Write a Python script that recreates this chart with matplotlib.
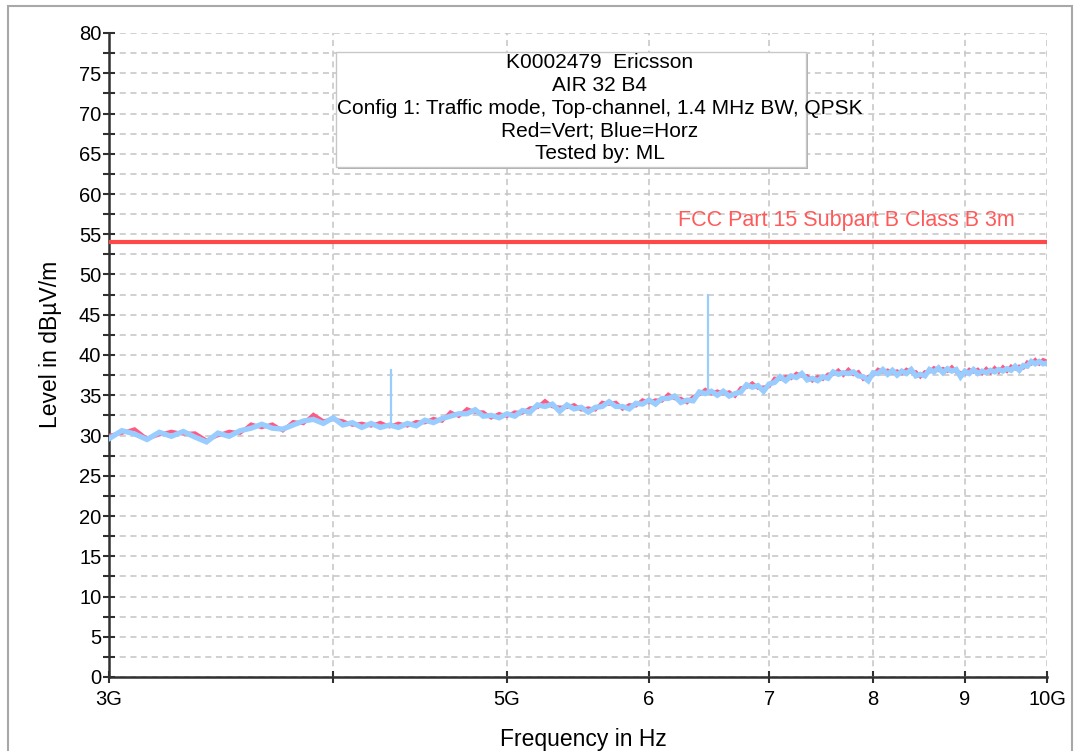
import numpy as np
import matplotlib
matplotlib.use("Agg")
import matplotlib.pyplot as plt
from matplotlib.patches import Rectangle
from matplotlib.ticker import MultipleLocator, NullLocator, FixedLocator, FixedFormatter

plt.rcParams['font.family'] = ['Liberation Sans', 'DejaVu Sans']

# Sweep points in GHz
freq_ghz = [
    3.00, 3.05, 3.10, 3.15, 3.20, 3.25, 3.30, 3.35, 3.40, 3.45,
    3.50, 3.55, 3.60, 3.65, 3.70, 3.75, 3.80, 3.85, 3.90, 3.95,
    4.00, 4.05, 4.10, 4.15, 4.20, 4.25, 4.30, 4.35, 4.40, 4.45,
    4.50, 4.55, 4.60, 4.65, 4.70, 4.75, 4.80, 4.85, 4.90, 4.95,
    5.00, 5.05, 5.10, 5.15, 5.20, 5.25, 5.30, 5.35, 5.40, 5.45,
    5.50, 5.55, 5.60, 5.65, 5.70, 5.75, 5.80, 5.85, 5.90, 5.95,
    6.00, 6.05, 6.10, 6.15, 6.20, 6.25, 6.30, 6.35, 6.40, 6.45,
    6.50, 6.55, 6.60, 6.65, 6.70, 6.75, 6.80, 6.85, 6.90, 6.95,
    7.00, 7.05, 7.10, 7.15, 7.20, 7.25, 7.30, 7.35, 7.40, 7.45,
    7.50, 7.55, 7.60, 7.65, 7.70, 7.75, 7.80, 7.85, 7.90, 7.95,
    8.00, 8.05, 8.10, 8.15, 8.20, 8.25, 8.30, 8.35, 8.40, 8.45,
    8.50, 8.55, 8.60, 8.65, 8.70, 8.75, 8.80, 8.85, 8.90, 8.95,
    9.00, 9.05, 9.10, 9.15, 9.20, 9.25, 9.30, 9.35, 9.40, 9.45,
    9.50, 9.55, 9.60, 9.65, 9.70, 9.75, 9.80, 9.85, 9.90, 9.95,
    10.00,
]

# Vertical polarisation (red)
level_vert = [
    30.0, 30.3, 30.8, 29.6, 30.1, 30.5, 30.2, 30.3, 29.4, 30.0,
    30.5, 30.3, 31.4, 31.0, 31.4, 30.6, 31.7, 31.5, 32.6, 31.8,
    32.0, 31.8, 31.3, 31.5, 31.2, 31.6, 31.1, 31.5, 31.2, 31.7,
    31.6, 32.1, 31.8, 32.9, 32.4, 33.3, 32.9, 32.9, 32.2, 32.7,
    32.4, 32.9, 32.8, 33.4, 33.5, 34.3, 33.6, 33.5, 33.5, 33.8,
    33.2, 33.4, 33.2, 34.1, 33.9, 34.1, 33.3, 33.8, 33.7, 34.4,
    34.1, 34.4, 34.3, 35.1, 34.6, 34.6, 34.1, 34.8, 35.1, 35.7,
    35.2, 35.5, 35.2, 35.4, 34.9, 35.9, 36.0, 36.5, 35.9, 36.0,
    36.1, 37.1, 37.0, 37.3, 37.1, 37.7, 37.4, 37.4, 36.8, 37.3,
    37.0, 37.6, 37.6, 38.1, 37.5, 38.2, 37.6, 37.9, 37.0, 37.3,
    37.5, 38.2, 37.9, 38.1, 37.8, 38.0, 37.7, 38.2, 37.9, 37.9,
    37.3, 37.9, 37.9, 38.4, 38.1, 38.3, 38.0, 38.5, 37.9, 37.8,
    37.7, 38.2, 37.9, 38.2, 37.7, 38.3, 37.8, 38.4, 37.9, 38.5,
    38.0, 38.6, 38.3, 38.6, 38.4, 39.1, 38.9, 39.4, 38.9, 39.4,
    39.2,
]

# Horizontal polarisation (blue)
level_horz = [
    29.6, 30.6, 30.2, 29.5, 30.4, 29.9, 30.5, 29.8, 29.2, 30.3,
    29.9, 30.6, 30.9, 31.4, 30.9, 30.8, 31.3, 31.8, 32.0, 31.5,
    32.2, 31.3, 31.6, 31.0, 31.5, 31.0, 31.3, 31.0, 31.5, 31.2,
    31.9, 31.6, 32.1, 32.4, 32.7, 32.7, 33.2, 32.4, 32.5, 32.2,
    32.7, 32.4, 33.1, 32.9, 33.8, 33.6, 33.9, 33.0, 33.8, 33.3,
    33.5, 32.9, 33.5, 33.6, 34.2, 33.6, 33.6, 33.3, 34.0, 33.9,
    34.4, 33.9, 34.6, 34.6, 34.9, 34.1, 34.4, 34.3, 35.4, 35.2,
    35.5, 35.0, 35.5, 34.9, 35.2, 35.4, 36.3, 36.0, 36.2, 35.5,
    36.4, 36.6, 37.3, 36.8, 37.4, 37.2, 37.7, 36.9, 37.1, 36.8,
    37.3, 37.1, 37.9, 37.6, 37.8, 37.7, 37.9, 37.4, 37.3, 36.8,
    37.8, 37.7, 38.2, 37.6, 38.1, 37.5, 38.0, 37.7, 38.2, 37.4,
    37.6, 37.4, 38.2, 37.9, 38.4, 37.8, 38.3, 38.0, 38.2, 37.3,
    38.0, 37.7, 38.2, 37.7, 38.0, 37.8, 38.1, 37.9, 38.2, 38.0,
    38.3, 38.1, 38.6, 38.1, 38.7, 38.6, 39.2, 38.9, 39.2, 38.9,
    39.0,
]

# Narrow carriers on the horizontal trace
spike_freq = [4.31, 6.47]
spike_floor = [31.2, 35.3]
spike_peak = [38.2, 47.6]

limit_level = 54.0
limit_name = "FCC Part 15 Subpart B Class B 3m"

info_lines = [
    "K0002479  Ericsson",
    "AIR 32 B4",
    "Config 1: Traffic mode, Top-channel, 1.4 MHz BW, QPSK",
    "Red=Vert; Blue=Horz",
    "Tested by: ML",
]

x_ticks = [3, 4, 5, 6, 7, 8, 9, 10]
x_tick_labels = ["3G", "", "5G", "6", "7", "8", "9", "10G"]

W, H = 1078, 751
fig = plt.figure(figsize=(W / 100, H / 100), dpi=100)
fig.patch.set_facecolor("white")

# outer panel frame
fig.patches.append(Rectangle((8 / W, -0.05), 1064 / W, 1 - 6 / H + 0.05,
                             transform=fig.transFigure, fill=False,
                             edgecolor="#a8a8a8", lw=1.5, zorder=0))

ax = fig.add_axes([109 / W, 74 / H, 938 / W, 644 / H])
ax.set_xscale("log")
ax.set_xlim(3, 10)
ax.set_ylim(0, 80)

ax.xaxis.set_major_locator(FixedLocator(x_ticks))
ax.xaxis.set_major_formatter(FixedFormatter(x_tick_labels))
ax.xaxis.set_minor_locator(NullLocator())
ax.yaxis.set_major_locator(MultipleLocator(5))
ax.yaxis.set_minor_locator(MultipleLocator(2.5))

ax.grid(True, which="both", axis="y", color="#c4c4c4", ls=(0, (4, 3)), lw=1.1)
ax.grid(True, which="major", axis="x", color="#c4c4c4", ls=(0, (4, 3)), lw=1.1)
ax.set_axisbelow(True)

for side in ("top", "right"):
    ax.spines[side].set_visible(False)
for side in ("left", "bottom"):
    ax.spines[side].set_color("#303030")
    ax.spines[side].set_linewidth(1.8)

ax.tick_params(axis="both", which="both", direction="inout", color="#303030",
               width=1.5, length=9, labelsize=14.5, pad=1)
ax.tick_params(axis="x", pad=5)

# traces
ax.plot(freq_ghz, level_vert, color="#ff5a84", lw=2.6, zorder=3,
        solid_joinstyle="miter")
ax.plot(freq_ghz, level_horz, color="#99ccff", lw=3.8, zorder=4,
        solid_joinstyle="miter")
ax.vlines(spike_freq, spike_floor, spike_peak, color="#99ccff", lw=1.6, zorder=4)

# limit line
ax.axhline(limit_level, color="#ff4848", lw=3, zorder=5)
ax.text(6.23, limit_level + 2.7, limit_name, color="#ff5a5a", fontsize=15.5,
        ha="left", va="center", zorder=5)

ax.set_xlabel("Frequency in Hz", fontsize=16.5)
ax.set_ylabel("Level in dBµV/m", fontsize=16.5)
ax.yaxis.set_label_coords(-0.050, 0.516)
ax.xaxis.set_label_coords(0.506, -0.079)

# info box
fig.patches.append(Rectangle((338 / W, (H - 169) / H), 470 / W, 115 / H,
                             transform=fig.transFigure, facecolor="#b0b0b0",
                             edgecolor="none", zorder=5))
fig.patches.append(Rectangle((336 / W, (H - 167) / H), 470 / W, 115 / H,
                             transform=fig.transFigure, facecolor="white",
                             edgecolor="#c8c8c8", lw=1, zorder=6))
fig.text(600 / W, (H - 108) / H, "\n".join(info_lines), ha="center",
         va="center", fontsize=15, linespacing=1.25, zorder=7)

fig.savefig("out.png", dpi=100)
